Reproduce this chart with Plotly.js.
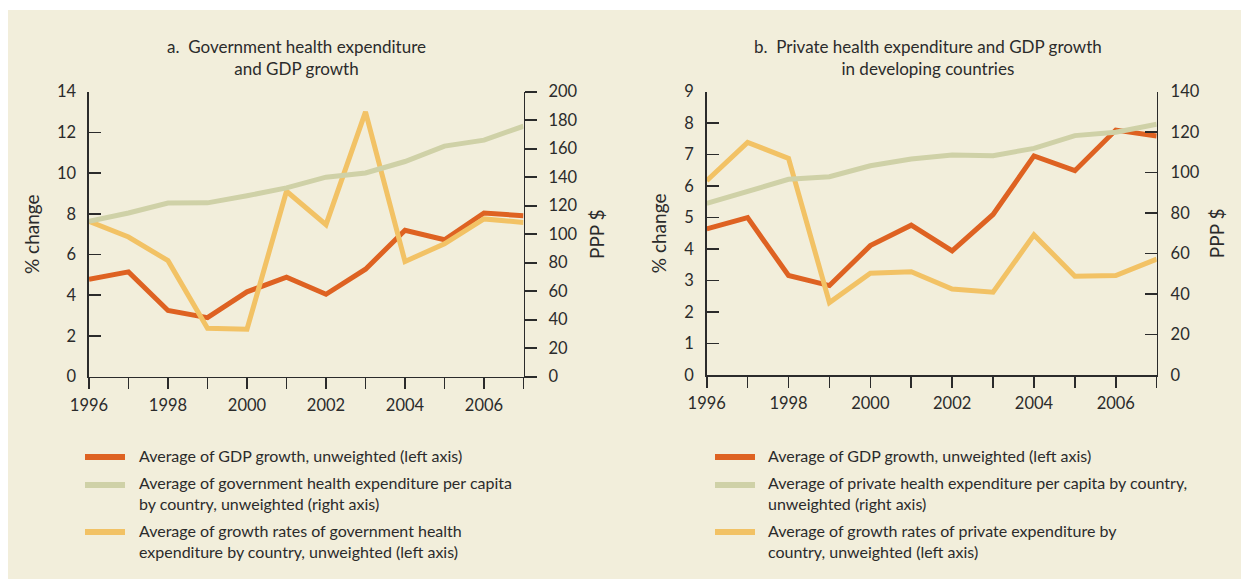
<!DOCTYPE html>
<html>
<head>
<meta charset="utf-8">
<script src="https://cdn.plot.ly/plotly-3.0.1.min.js"></script>
<style>html,body{margin:0;padding:0;background:#fff;}#chart{width:1241px;height:579px;}</style>
</head>
<body>
<div id="chart"></div>
<script>
// ---------- data ----------
const years = [1996, 1997, 1998, 1999, 2000, 2001, 2002, 2003, 2004, 2005, 2006, 2007];
const xTickLabels = ['1996', '', '1998', '', '2000', '', '2002', '', '2004', '', '2006', ''];

// Panel a: Government health expenditure and GDP growth
const gdpGrowthA = [4.79, 5.15, 3.25, 2.90, 4.17, 4.89, 4.05, 5.28, 7.19, 6.73, 8.04, 7.91];
const govExpPerCapitaA = [109, 114.9, 121.9, 122, 127, 132.5, 140, 143, 151, 161.8, 166, 175.8];
const govExpGrowthA = [7.63, 6.86, 5.70, 2.38, 2.33, 9.11, 7.47, 13.01, 5.66, 6.53, 7.75, 7.58];

// Panel b: Private health expenditure and GDP growth in developing countries
const gdpGrowthB = [4.64, 5.00, 3.16, 2.84, 4.11, 4.76, 3.94, 5.10, 6.96, 6.49, 7.78, 7.59];
const privExpPerCapitaB = [84.8, 90.9, 96.7, 98, 103.4, 106.7, 108.7, 108.4, 112, 118.3, 120, 123.9];
const privExpGrowthB = [6.17, 7.39, 6.88, 2.30, 3.23, 3.28, 2.73, 2.63, 4.45, 3.14, 3.16, 3.68];

const titleA = 'a.\u00a0 Government health expenditure<br>and GDP growth';
const titleB = 'b.\u00a0 Private health expenditure and GDP growth<br>in developing countries';
const legendA = [
  'Average of GDP growth, unweighted (left axis)',
  'Average of government health expenditure per capita<br>by country, unweighted (right axis)',
  'Average of growth rates of government health<br>expenditure by country, unweighted (left axis)'
];
const legendB = [
  'Average of GDP growth, unweighted (left axis)',
  'Average of private health expenditure per capita by country,<br>unweighted (right axis)',
  'Average of growth rates of private expenditure by<br>country, unweighted (left axis)'
];
const leftAxisTitle = '% change';
const rightAxisTitle = 'PPP $';

// ---------- style ----------
const W = 1241, H = 579;
const BG = '#f2eedb';
const INK = '#2b2b2b';
const C_GDP = '#de6222';
const C_EXP = '#cfd1a7';
const C_GROWTH = '#f2c265';
const seriesColors = [C_GDP, C_EXP, C_GROWTH];
const FONT = 'Lato, "Noto Sans", "DejaVu Sans", sans-serif';
const LW = 5;

function px(x) { return x / W; }
function py(y) { return 1 - y / H; }

const traces = [
  {x: years, y: gdpGrowthA, xaxis: 'x', yaxis: 'y', mode: 'lines', line: {color: C_GDP, width: LW}, name: legendA[0]},
  {x: years, y: govExpGrowthA, xaxis: 'x', yaxis: 'y', mode: 'lines', line: {color: C_GROWTH, width: LW}, name: legendA[2]},
  {x: years, y: govExpPerCapitaA, xaxis: 'x', yaxis: 'y2', mode: 'lines', line: {color: C_EXP, width: LW}, name: legendA[1]},
  {x: years, y: gdpGrowthB, xaxis: 'x2', yaxis: 'y3', mode: 'lines', line: {color: C_GDP, width: LW}, name: legendB[0]},
  {x: years, y: privExpGrowthB, xaxis: 'x2', yaxis: 'y3', mode: 'lines', line: {color: C_GROWTH, width: LW}, name: legendB[2]},
  {x: years, y: privExpPerCapitaB, xaxis: 'x2', yaxis: 'y4', mode: 'lines', line: {color: C_EXP, width: LW}, name: legendB[1]}
];

const axisCommon = {
  showline: true, linecolor: INK, linewidth: 1.6,
  tickcolor: INK, tickwidth: 1.6, ticklen: 12,
  showgrid: false, zeroline: false, fixedrange: true,
  tickfont: {family: FONT, size: 16.5, color: INK}
};
function xAx(domain, anchor) {
  return Object.assign({}, axisCommon, {
    domain: domain, anchor: anchor, range: [1996, 2007],
    tickmode: 'array', tickvals: years, ticktext: xTickLabels,
    ticks: 'outside', ticklen: 11, ticklabelstandoff: 2
  });
}
function yAx(domain, anchor, range, dtick, side, ticks, title, standoff, labelStandoff) {
  return Object.assign({}, axisCommon, {
    domain: domain, anchor: anchor, range: range, dtick: dtick, tick0: 0,
    side: side, ticks: ticks, ticklabelstandoff: labelStandoff,
    title: {text: title, standoff: standoff, font: {family: FONT, size: 19, color: INK}}
  });
}

const yDomA = [py(376.7), py(91.7)];
const yDomB = [py(375), py(91.7)];

const layout = {
  width: W, height: H,
  margin: {l: 0, r: 0, t: 0, b: 0},
  paper_bgcolor: '#ffffff',
  plot_bgcolor: 'rgba(0,0,0,0)',
  showlegend: false,
  font: {family: FONT, size: 16, color: INK},
  xaxis: xAx([px(89), px(523.5)], 'y'),
  yaxis: yAx(yDomA, 'x', [0, 14], 2, 'left', 'inside', leftAxisTitle, 12, 8),
  yaxis2: Object.assign(yAx(yDomA, 'x', [0, 200], 20, 'right', 'outside', rightAxisTitle, 14, 8), {overlaying: 'y'}),
  xaxis2: xAx([px(706.7), px(1156.7)], 'y3'),
  yaxis3: yAx(yDomB, 'x2', [0, 9], 1, 'left', 'inside', leftAxisTitle, 12, 8),
  yaxis4: Object.assign(yAx(yDomB, 'x2', [0, 140], 20, 'right', 'inside', rightAxisTitle, 12, 9), {overlaying: 'y3'}),
  shapes: [],
  annotations: []
};

// background panel
layout.shapes.push({type: 'rect', xref: 'paper', yref: 'paper', x0: px(8), x1: 1, y0: 0, y1: py(10),
  fillcolor: BG, line: {width: 0}, layer: 'below'});

// titles
layout.annotations.push({xref: 'paper', yref: 'paper', x: px(296), y: py(57.5), xanchor: 'center', yanchor: 'middle',
  text: titleA, showarrow: false, align: 'center', font: {family: FONT, size: 17, color: INK}});
layout.annotations.push({xref: 'paper', yref: 'paper', x: px(928), y: py(57.5), xanchor: 'center', yanchor: 'middle',
  text: titleB, showarrow: false, align: 'center', font: {family: FONT, size: 17, color: INK}});

// legends (swatch + text)
const legendSwatchY = [457, 485, 532];
const legendTextY = [455, 493, 540.5];
function addLegend(items, swatchX0, textX) {
  items.forEach(function (txt, i) {
    layout.shapes.push({type: 'line', xref: 'paper', yref: 'paper',
      x0: px(swatchX0), x1: px(swatchX0 + 40), y0: py(legendSwatchY[i]), y1: py(legendSwatchY[i]),
      line: {color: seriesColors[i], width: 6}});
    layout.annotations.push({xref: 'paper', yref: 'paper', x: px(textX), y: py(legendTextY[i]),
      xanchor: 'left', yanchor: 'middle', align: 'left', showarrow: false, text: txt,
      font: {family: FONT, size: 16, color: INK}});
  });
}
addLegend(legendA, 85, 137);
addLegend(legendB, 715, 766);

Plotly.newPlot('chart', traces, layout, {staticPlot: true, displayModeBar: false});
</script>
</body>
</html>
